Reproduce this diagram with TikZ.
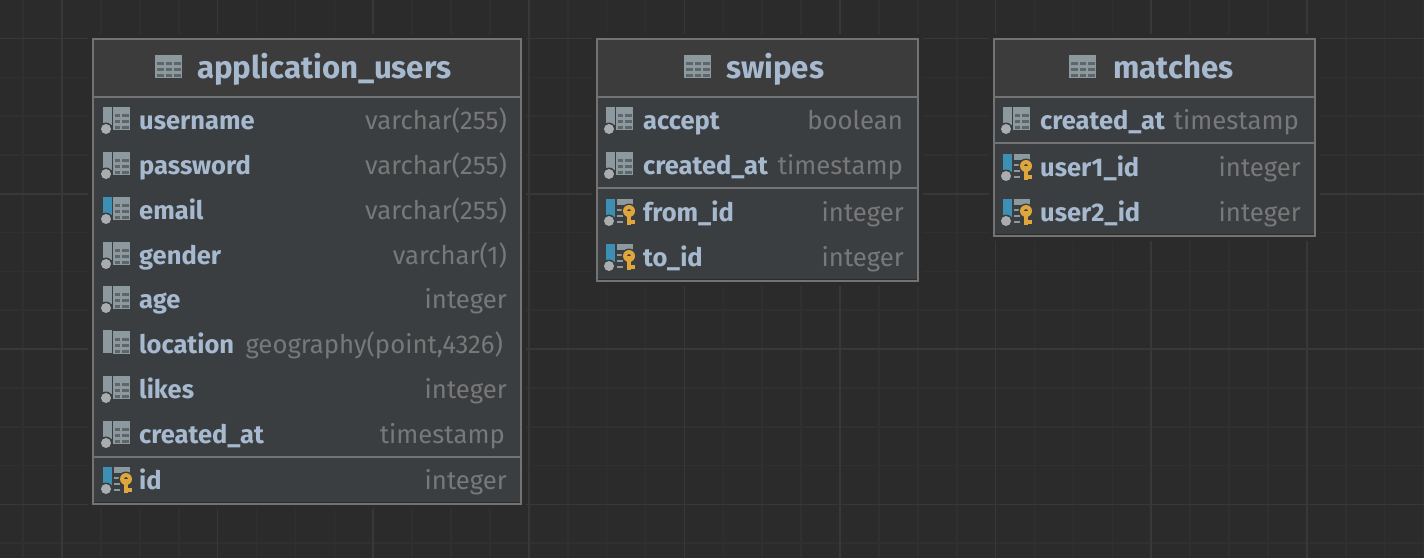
\documentclass[tikz,border=0pt]{standalone}
\usepackage{fontspec}
\setmainfont{Fira Sans}

\definecolor{canvasbg}{HTML}{2B2B2B}
\definecolor{gridminor}{HTML}{303030}
\definecolor{gridmajor}{HTML}{383838}
\definecolor{headbg}{HTML}{3C3C3C}
\definecolor{bodybg}{HTML}{3B3E41}
\definecolor{tableedge}{HTML}{737373}
\definecolor{nametext}{HTML}{A7B9CF}
\definecolor{typetext}{HTML}{787878}
\definecolor{icongrey}{HTML}{8C999F}
\definecolor{iconcell}{HTML}{5F666A}
\definecolor{icondot}{HTML}{A9ADB0}
\definecolor{iconblue}{HTML}{3D8FB3}
\definecolor{icongold}{HTML}{DFA63C}

\tikzset{
  tablename/.style={anchor=base west, inner sep=0pt, text=nametext, font=\fontsize{31.2}{31.2}\selectfont\bfseries},
  colname/.style={anchor=base west, inner sep=0pt, text=nametext, font=\fontsize{25.5}{25.5}\selectfont\bfseries},
  coltype/.style={anchor=base east, inner sep=0pt, text=typetext, font=\fontsize{25.7}{25.7}\selectfont},
  tablebox/.style={draw=tableedge, line width=2pt, fill=bodybg},
  rowline/.style={draw=tableedge, line width=2pt},
  pics/headicon/.style={code={
    \fill [icongrey] (-1, -12) rectangle (26, 11);
    \foreach \u in {1, 9.5, 18} \foreach \v in {-5.5, 0.5, 6.5}
      \fill [iconcell] (\u, \v) rectangle ++(6.5, 3.6);
  }},
  pics/coltable/.style={code={
    \fill [icongrey] (11, -13) rectangle (28, 10);
    \foreach \u/\w in {13/4.5, 19.5/7} \foreach \v in {-6.5, -0.5, 5.5}
      \fill [iconcell] (\u, \v) rectangle ++(\w, 3.6);
  }},
  pics/colicon/.style={code={
    \fill [#1] (1, -13) rectangle (10, 5);
    \pic {coltable};
    \fill [bodybg] (4, 9) circle (6.5);
    \fill [icondot] (4, 9) circle (5);
  }},
  pics/colicon/.default=icongrey,
  pics/plainicon/.style={code={
    \fill [icongrey] (1, -14) rectangle (10, 9);
    \pic {coltable};
  }},
  pics/keyicon/.style={code={
    \fill [iconblue] (1, -13) rectangle (10, 5);
    \fill [icongrey] (12, -13) rectangle (28, -7);
    \foreach \v in {-3, 3, 9} \fill [icongrey] (12, \v) rectangle (18, \v + 1.6);
    \fill [bodybg] (4, 9) circle (6.5);
    \fill [icondot] (4, 9) circle (5);
    \fill [bodybg] (24, -1) circle (7.5);
    \fill [icongold] (22, -1) rectangle (25.5, 13);
    \fill [icongold] (25, 8) rectangle (29.5, 12);
    \fill [icongold, even odd rule] (24, -1) circle (6) (24, -1) circle (2);
  }},
}

\begin{document}
\begin{tikzpicture}[x=1pt, y=-1pt]
  \useasboundingbox (0, 0) rectangle (1424, 558);
  \fill [canvasbg] (0, 0) rectangle (1424, 558);
  % grid
  \foreach \i in {-1, ..., 35} \draw [gridminor, line width=1.6pt] ({62 + 38.9*\i}, 0) -- ({62 + 38.9*\i}, 558);
  \foreach \j in {0, ..., 14} \draw [gridminor, line width=1.6pt] (0, {38.5 + 38.82*\j}) -- (1424, {38.5 + 38.82*\j});
  \foreach \i in {0, ..., 8} \draw [gridmajor, line width=1.6pt] ({62 + 155.6*\i}, 0) -- ({62 + 155.6*\i}, 558);
  \foreach \j in {0, ..., 3} \draw [gridmajor, line width=1.6pt] (0, {38.5 + 155.3*\j}) -- (1424, {38.5 + 155.3*\j});
  % clear margin round the tables
  \fill [canvasbg] (88, 34) rectangle (526, 509);
  \fill [canvasbg] (592, 34) rectangle (923, 286);
  \fill [canvasbg] (989, 34) rectangle (1320, 241);

  % application_users
  \draw [tablebox] (93, 97) rectangle (521, 504);
  \fill [headbg] (94, 40) rectangle (520, 97);
  \draw [canvasbg, line width=1pt] (94, 502) -- (520, 502);
  \draw [rowline] (93, 39) rectangle (521, 504);
  \draw [rowline] (93, 97) -- (521, 97);
  \draw [rowline] (93, 457) -- (521, 457);
  \pic at (156, 67) {headicon};
  \node [tablename] (users) at (197, 78) {application\_users};
  \pic at (102, 120) {colicon};
  \node [colname] (users-username) at (139, 129) {username};
  \node [coltype] (users-username-type) at (507, 129) {varchar(255)};
  \pic at (102, 165) {colicon};
  \node [colname] (users-password) at (139, 174) {password};
  \node [coltype] (users-password-type) at (507, 174) {varchar(255)};
  \pic at (102, 210) {colicon=iconblue};
  \node [colname] (users-email) at (139, 219) {email};
  \node [coltype] (users-email-type) at (507, 219) {varchar(255)};
  \pic at (102, 255) {colicon};
  \node [colname] (users-gender) at (139, 264) {gender};
  \node [coltype] (users-gender-type) at (507, 264) {varchar(1)};
  \pic at (102, 299) {colicon};
  \node [colname] (users-age) at (139, 308) {age};
  \node [coltype] (users-age-type) at (507, 308) {integer};
  \pic at (102, 344) {plainicon};
  \node [colname] (users-location) at (139, 353) {location};
  \node [coltype] (users-location-type) at (503, 353) {geography(point,4326)};
  \pic at (102, 389) {colicon};
  \node [colname] (users-likes) at (139, 398) {likes};
  \node [coltype] (users-likes-type) at (507, 398) {integer};
  \pic at (102, 434) {colicon};
  \node [colname] (users-created) at (139, 443) {created\_at};
  \node [coltype] (users-created-type) at (505, 443) {timestamp};
  \pic at (102, 480) {keyicon};
  \node [colname] (users-id) at (139, 489) {id};
  \node [coltype] (users-id-type) at (507, 489) {integer};

  % swipes
  \draw [tablebox] (597, 97) rectangle (918, 281);
  \fill [headbg] (598, 40) rectangle (917, 97);
  \draw [canvasbg, line width=1pt] (598, 279) -- (917, 279);
  \draw [rowline] (597, 39) rectangle (918, 281);
  \draw [rowline] (597, 97) -- (918, 97);
  \draw [rowline] (597, 188) -- (918, 188);
  \pic at (685, 67) {headicon};
  \node [tablename] (swipes) at (726, 78) {swipes};
  \pic at (605, 120) {colicon};
  \node [colname] (swipes-accept) at (643, 129) {accept};
  \node [coltype] (swipes-accept-type) at (903, 129) {boolean};
  \pic at (605, 165) {colicon};
  \node [colname] (swipes-created) at (643, 174) {created\_at};
  \node [coltype] (swipes-created-type) at (903, 174) {timestamp};
  \pic at (605, 212) {keyicon};
  \node [colname] (swipes-from) at (643, 221) {from\_id};
  \node [coltype] (swipes-from-type) at (904, 221) {integer};
  \pic at (605, 257) {keyicon};
  \node [colname] (swipes-to) at (643, 266) {to\_id};
  \node [coltype] (swipes-to-type) at (904, 266) {integer};

  % matches
  \draw [tablebox] (994, 97) rectangle (1315, 236);
  \fill [headbg] (995, 40) rectangle (1314, 97);
  \draw [canvasbg, line width=1pt] (995, 234) -- (1314, 234);
  \draw [rowline] (994, 39) rectangle (1315, 236);
  \draw [rowline] (994, 97) -- (1315, 97);
  \draw [rowline] (994, 143) -- (1315, 143);
  \pic at (1070, 67) {headicon};
  \node [tablename] (matches) at (1113, 78) {matches};
  \pic at (1002, 120) {colicon};
  \node [colname] (matches-created) at (1040, 129) {created\_at};
  \node [coltype] (matches-created-type) at (1299, 129) {timestamp};
  \pic at (1002, 167) {keyicon};
  \node [colname] (matches-user1) at (1040, 176) {user1\_id};
  \node [coltype] (matches-user1-type) at (1301, 176) {integer};
  \pic at (1002, 212) {keyicon};
  \node [colname] (matches-user2) at (1040, 221) {user2\_id};
  \node [coltype] (matches-user2-type) at (1301, 221) {integer};
\end{tikzpicture}
\end{document}
